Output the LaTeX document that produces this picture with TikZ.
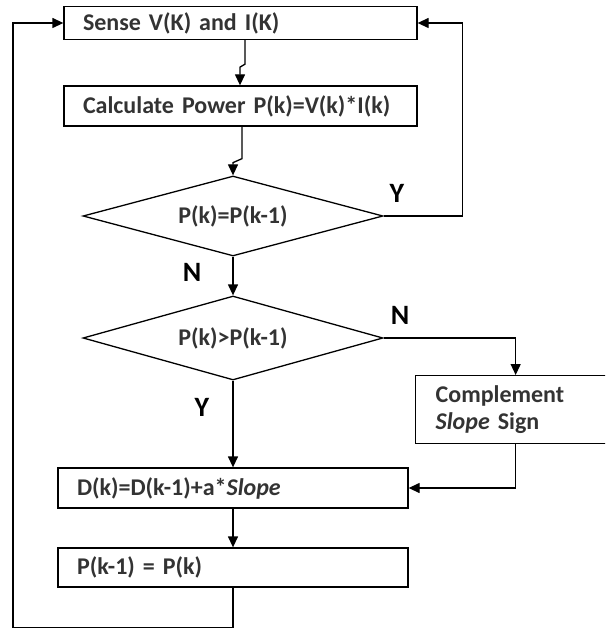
\documentclass[tikz,border=0pt]{standalone}
\usepackage{fontspec}
\setmainfont{Carlito}
\usetikzlibrary{arrows.meta, shapes.geometric, positioning, calc}

\begin{document}
\begin{tikzpicture}[x=1pt, y=-1pt, >={Triangle[length=11pt,width=10pt]},
    line width=1.3pt, font=\fontsize{24}{27}\selectfont\bfseries,
    procbox/.style={draw, rectangle, minimum height=40pt, inner xsep=19pt,
      inner ysep=0pt, align=left, text=black!80},
    testbox/.style={draw, diamond, minimum width=300pt, minimum height=80pt,
      inner sep=0pt, aspect=3.75, text=black!80},
    yn/.style={font=\fontsize{28}{30}\selectfont\bfseries}]
  \clip (0,0) rectangle (605,631);
  %% process boxes
  \node[procbox, text width=315pt, minimum height=33pt] (sense) at (240.5,23)
    {Sense V(K) and I(K)};
  \node[procbox, text width=315pt] (calc) at (240.5,106)
    {Calculate Power P(k)=V(k)*I(k)};
  \node[testbox] (eq) at (233,216) {P(k)=P(k-1)};
  \node[testbox, minimum height=84pt] (gt) at (233,338) {P(k)>P(k-1)};
  \node[procbox, text width=160pt, inner xsep=20pt, minimum height=68pt,
    anchor=north west] (comp) at (415,375)
    {Complement\\\textit{Slope} Sign};
  \node[procbox, text width=312pt] (duty) at (233,488)
    {D(k)=D(k-1)+a*\textit{Slope}};
  \node[procbox, text width=312pt, minimum height=39pt] (prev) at (233,567.5)
    {P(k-1) = P(k)};
  %% branch labels
  \node[yn] (eqy) at (397,193) {Y};
  \node[yn] (eqn) at (192,272) {N};
  \node[yn] (gtn) at (400,315) {N};
  \node[yn] (gty) at (202,407) {Y};
  %% connectors
  \draw[->] ([xshift=4.5pt]sense.south) -- ++(0,24) -- ++(-5,3)
    -- ([xshift=-0.5pt]calc.north);
  \draw[->] ([xshift=1.5pt]calc.south) -- ++(0,32) -- ++(-9,4) -- (eq.north);
  \draw[->] (eq.east) -- ++(79,0) |- (sense.east);
  \draw[->] (eq.south) -- (gt.north);
  \draw[->] (gt.east) -| (comp.north);
  \draw[->] (gt.south) -- (duty.north);
  \draw[->] (comp.south) |- (duty.east);
  \draw[->] (duty.south) -- (prev.north);
  \draw[->] (prev.south) -- ++(0,40) -- ++(-220,0) |- (sense.west);
\end{tikzpicture}
\end{document}
